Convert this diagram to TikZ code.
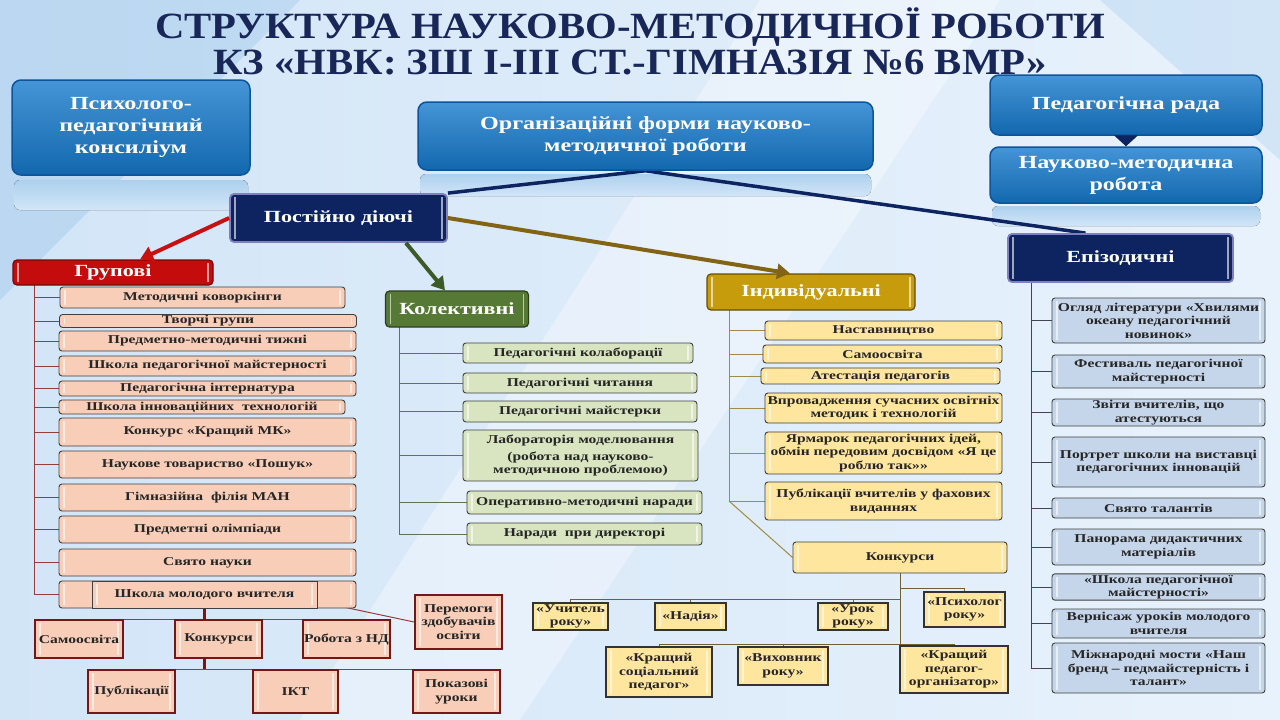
\documentclass[tikz,border=0pt]{standalone}
\usepackage{fontspec}
\setmainfont{Liberation Serif}
\newfontfamily\widefont{Liberation Serif}[FakeStretch=1.3,Ligatures=TeX]
\usepackage{tikz}
\usetikzlibrary{arrows.meta,shapes,positioning,backgrounds}

\definecolor{bgblue}{RGB}{210,229,247}
\definecolor{bgblue2}{RGB}{232,242,252}
\definecolor{topblue}{RGB}{22,122,204}
\definecolor{topblued}{RGB}{12,84,156}
\definecolor{navy}{RGB}{14,36,96}
\definecolor{titlenavy}{RGB}{24,38,88}
\definecolor{grpred}{RGB}{196,12,12}
\definecolor{kolgreen}{RGB}{86,122,54}
\definecolor{indgold}{RGB}{198,156,12}
\definecolor{peach}{RGB}{248,206,184}
\definecolor{lgreen}{RGB}{216,229,192}
\definecolor{lyellow}{RGB}{254,230,158}
\definecolor{lblue}{RGB}{198,214,234}
\definecolor{busred}{RGB}{150,62,62}
\definecolor{busgreen}{RGB}{98,114,84}
\definecolor{busgold}{RGB}{160,138,72}
\definecolor{busgray}{RGB}{66,68,84}
\definecolor{subred}{RGB}{118,22,22}
\definecolor{arrred}{RGB}{200,16,16}
\definecolor{arrgreen}{RGB}{60,90,40}
\definecolor{arrgold}{RGB}{130,100,20}

\newcommand{\ttlfont}{\bfseries\fontsize{37}{37}\selectfont}
\newcommand{\topfont}{\widefont\bfseries\fontsize{18.5}{22}\selectfont}
\newcommand{\catfont}{\widefont\bfseries\fontsize{17}{19}\selectfont}
\newcommand{\itemfont}{\widefont\bfseries\fontsize{12}{13.5}\selectfont}

\begin{document}
\begin{tikzpicture}[
    x=1pt, y=-1pt,
    bevel/.style={path picture={
        \draw[white, opacity=0.6, line width=1.4pt]
          ([xshift=5pt,yshift=3pt]path picture bounding box.south west) -- ([xshift=5pt,yshift=-3pt]path picture bounding box.north west)
          ([xshift=-5pt,yshift=3pt]path picture bounding box.south east) -- ([xshift=-5pt,yshift=-3pt]path picture bounding box.north east);}},
    ttl/.style={font=\ttlfont, text=titlenavy, xscale=1.1, inner sep=0pt, anchor=base},
    topbox/.style={rectangle, rounded corners=9pt, draw=topblued, line width=1.5pt,
                   top color=topblue!80!white, bottom color=topblue!85!black,
                   text=white, align=center, font=\topfont, inner sep=2pt},
    navybox/.style={rectangle, rounded corners=4pt, draw=black!50!blue!50, line width=1.8pt,
                    fill=navy, text=white, font=\catfont, bevel},
    catbox/.style={rectangle, rounded corners=4pt, line width=1.2pt, text=white, font=\catfont, bevel},
    item/.style={rectangle, draw=black!75, line width=0.9pt, rounded corners=3pt, text=black!85,
                 align=center, inner sep=1pt, font=\itemfont, bevel},
    gitem/.style={item, fill=peach, minimum width=297pt},
    kitem/.style={item, fill=lgreen, minimum width=234pt},
    iitem/.style={item, fill=lyellow, minimum width=237pt},
    eitem/.style={item, fill=lblue, minimum width=213pt},
    sbox/.style={rectangle, draw=subred, line width=1.8pt, fill=peach, text=black!85,
                 align=center, inner sep=1pt, font=\itemfont, minimum width=87pt, bevel},
    cbox/.style={rectangle, draw=black!80, line width=1.6pt, fill=lyellow, text=black!85,
                 align=center, inner sep=1pt, font=\itemfont, bevel},
    navyline/.style={draw=navy, line width=3.5pt},
    redarrow/.style={draw=arrred, line width=4pt, -{Triangle[length=13pt,width=15pt]}},
    greenarrow/.style={draw=arrgreen, line width=4pt, -{Triangle[length=13pt,width=15pt]}},
    goldarrow/.style={draw=arrgold, line width=4pt, -{Triangle[length=13pt,width=15pt]}},
    gline/.style={draw=busred, line width=1pt},
    kline/.style={draw=busgreen, line width=1pt},
    iline/.style={draw=busgold, line width=1pt},
    eline/.style={draw=busgray, line width=1pt},
    thinred/.style={draw=busred, line width=1pt},
    thickred/.style={draw=subred, line width=2.5pt},
    cline/.style={draw=busgold!70!black, line width=0.9pt}
]
\useasboundingbox (0,0) rectangle (1280,720);

% Background
\begin{scope}[on background layer]
\shade [left color=bgblue, right color=bgblue2] (0,0) rectangle (1280,720);
\fill [white, opacity=0.35] (760,0) -- (1000,0) -- (520,720) -- (300,720) -- cycle;
\fill [topblue, opacity=0.12] (0,0) -- (300,0) -- (0,300) -- cycle;
\fill [topblue, opacity=0.10] (1280,0) -- (1100,0) -- (1280,160) -- cycle;
% reflections
\fill [top color=topblue!35, bottom color=bgblue, rounded corners=6pt] (14,180) rectangle (248,210);
\fill [top color=topblue!35, bottom color=bgblue, rounded corners=6pt] (420,174) rectangle (871,196);
\fill [top color=topblue!35, bottom color=bgblue, rounded corners=6pt] (992,206) rectangle (1260,226);
\end{scope}

% Title
\node [ttl] (title1) at (630,38) {СТРУКТУРА НАУКОВО-МЕТОДИЧНОЇ РОБОТИ};
\node [ttl] (title2) at (630,74) {КЗ «НВК: ЗШ І-ІІІ СТ.-ГІМНАЗІЯ №6 ВМР»};

% Top blocks
\node [topbox, minimum width=238pt, minimum height=95pt] (psy) at (131,127.5) {Психолого-\\педагогічний\\консиліум};
\node [topbox, minimum width=455pt, minimum height=68pt] (org) at (645.5,136) {Організаційні форми науково-\\методичної роботи};
\node [topbox, minimum width=272pt, minimum height=60pt] (rada) at (1126,105) {Педагогічна рада};
\node [topbox, minimum width=272pt, minimum height=56pt] (nmr) at (1126,175) {Науково-методична\\робота};

% Second level
\node [navybox, minimum width=217pt, minimum height=48pt] (pd) at (338.5,218) {Постійно діючі};
\node [navybox, minimum width=225pt, minimum height=48pt] (epi) at (1120.5,258) {Епізодичні};

\node [catbox, fill=grpred, draw=grpred!60!black, minimum width=200pt, minimum height=25pt] (grp) at (113,272.5) {Групові};
\node [catbox, fill=kolgreen, draw=kolgreen!50!black, minimum width=143pt, minimum height=36pt] (kol) at (457,309) {Колективні};
\node [catbox, fill=indgold, draw=indgold!50!black, minimum width=208pt, minimum height=36pt] (ind) at (811,292) {Індивідуальні};

% Group forms
\node [gitem, minimum width=285pt, minimum height=21pt] (g1) at (202.5,297.5) {Методичні коворкінги};
\node [gitem, minimum height=12pt] (g2) at (208,321) {Творчі групи};
\node [gitem, minimum height=20pt] (g3) at (207.5,341) {Предметно-методичні тижні};
\node [gitem, minimum height=20pt] (g4) at (207.5,366) {Школа педагогічної майстерності};
\node [gitem, minimum height=15pt] (g5) at (207.5,388.5) {Педагогічна інтернатура};
\node [gitem, minimum width=286pt, minimum height=14pt] (g6) at (202,407) {Школа інноваційних \ технологій};
\node [gitem, minimum height=28pt] (g7) at (207.5,432) {Конкурс «Кращий МК»};
\node [gitem, minimum height=27pt] (g8) at (207.5,464.5) {Наукове товариство «Пошук»};
\node [gitem, minimum height=27pt] (g9) at (207.5,497.5) {Гімназійна \ філія МАН};
\node [gitem, minimum height=27pt] (g10) at (207.5,529.5) {Предметні олімпіади};
\node [gitem, minimum height=27pt] (g11) at (207.5,562.5) {Свято науки};
\node [gitem, minimum height=27pt] (g12) at (207.5,594.5) {};
\node [gitem, minimum width=225pt, minimum height=27pt, rounded corners=0pt] (smv) at (204.5,594.5) {Школа молодого вчителя};

% Young teacher school
\node [sbox, minimum width=88pt, minimum height=38pt] (s1) at (79,639) {Самоосвіта};
\node [sbox, minimum height=38pt] (s2) at (218.5,639) {Конкурси};
\node [sbox, minimum height=38pt] (s3) at (346.5,639) {Робота з НД};
\node [sbox, minimum height=54pt] (s4) at (458.5,622) {Перемоги\\здобувачів\\освіти};
\node [sbox, minimum height=43pt] (s5) at (131.5,691.5) {Публікації};
\node [sbox, minimum width=85pt, minimum height=43pt] (s6) at (295.5,691.5) {ІКТ};
\node [sbox, minimum height=43pt] (s7) at (456.5,691.5) {Показові\\уроки};

% Collective forms
\node [kitem, minimum width=230pt, minimum height=20pt] (k1) at (578,353) {Педагогічні колаборації};
\node [kitem, minimum height=20pt] (k2) at (580,383) {Педагогічні читання};
\node [kitem, minimum height=21pt] (k3) at (580,411.5) {Педагогічні майстерки};
\node [kitem, minimum width=235pt, minimum height=51pt] (k4) at (580.5,455.5) {Лабораторія моделювання\\[3pt](робота над науково-\\методичною проблемою)};
\node [kitem, minimum width=235pt, minimum height=23pt] (k5) at (584.5,502.5) {Оперативно-методичні наради};
\node [kitem, minimum width=235pt, minimum height=22pt] (k6) at (584.5,534) {Наради \ при директорі};

% Individual forms
\node [iitem, minimum height=19pt] (i1) at (883.5,330.5) {Наставництво};
\node [iitem, minimum width=239pt, minimum height=18pt] (i2) at (882.5,354) {Самоосвіта};
\node [iitem, minimum width=239pt, minimum height=16pt] (i3) at (880.5,376) {Атестація педагогів};
\node [iitem, minimum height=30pt] (i4) at (883.5,408) {Впровадження сучасних освітніх\\методик і технологій};
\node [iitem, minimum height=42pt] (i5) at (883.5,453) {Ярмарок педагогічних ідей,\\обмін передовим досвідом «Я це\\роблю так»»};
\node [iitem, minimum height=38pt] (i6) at (883.5,501) {Публікації вчителів у фахових\\виданнях};

% Contests
\node [iitem, minimum width=214pt, minimum height=31pt] (konk) at (900,557.5) {Конкурси};
\node [cbox, minimum width=75pt, minimum height=27pt] (c1) at (570.5,616.5) {«Учитель\\року»};
\node [cbox, minimum width=71pt, minimum height=27pt] (c2) at (690.5,616.5) {«Надія»};
\node [cbox, minimum width=70pt, minimum height=27pt] (c3) at (853,616.5) {«Урок\\року»};
\node [cbox, minimum width=81pt, minimum height=35pt] (c4) at (964.5,609.5) {«Психолог\\року»};
\node [cbox, minimum width=106pt, minimum height=50pt] (c5) at (659,672) {«Кращий\\соціальний\\педагог»};
\node [cbox, minimum width=90pt, minimum height=38pt] (c6) at (783,666) {«Виховник\\року»};
\node [cbox, minimum width=108pt, minimum height=47pt] (c7) at (954,669.5) {«Кращий\\педагог-\\організатор»};

% Episodic forms
\node [eitem, minimum height=45pt] (e1) at (1158.5,320.5) {Огляд літератури «Хвилями\\океану педагогічний\\новинок»};
\node [eitem, minimum height=33pt] (e2) at (1158.5,371.5) {Фестиваль педагогічної\\майстерності};
\node [eitem, minimum height=27pt] (e3) at (1158.5,412.5) {Звіти вчителів, що\\атестуються};
\node [eitem, minimum height=50pt] (e4) at (1158.5,462) {Портрет школи на виставці\\педагогічних інновацій};
\node [eitem, minimum height=20pt] (e5) at (1158.5,508) {Свято талантів};
\node [eitem, minimum height=36pt] (e6) at (1158.5,547) {Панорама дидактичних\\матеріалів};
\node [eitem, minimum height=26pt] (e7) at (1158.5,587) {«Школа педагогічної\\майстерності»};
\node [eitem, minimum height=29pt] (e8) at (1158.5,623.5) {Вернісаж уроків молодого\\вчителя};
\node [eitem, minimum height=50pt] (e9) at (1158.5,668) {Міжнародні мости «Наш\\бренд – педмайстерність і\\талант»};

% Bus points
\coordinate (gtop) at (34,285);
\coordinate (ktop) at (399,327);
\coordinate (itop) at (729,310);
\coordinate (iend) at (729,501);
\coordinate (etop) at (1031,282);
\coordinate (kb0) at (900,588);
\coordinate (kb1) at (900,599);
\coordinate (kb2) at (900,644);

% Connectors
\begin{scope}[on background layer]
\draw [navyline] (org.south) -- (pd.north east);
\draw [navyline] (org.south) -- ([xshift=-35pt]epi.north);

\draw [gline] (gtop) |- (g1);
\draw [gline] (gtop) |- (g2);
\draw [gline] (gtop) |- (g3);
\draw [gline] (gtop) |- (g4);
\draw [gline] (gtop) |- (g5);
\draw [gline] (gtop) |- (g6);
\draw [gline] (gtop) |- (g7);
\draw [gline] (gtop) |- (g8);
\draw [gline] (gtop) |- (g9);
\draw [gline] (gtop) |- (g10);
\draw [gline] (gtop) |- (g11);
\draw [gline] (gtop) |- (g12);

\draw [thickred] (smv.south) -- (smv.south |- s5.north);
\draw [thinred] (s1.north) -- (s3.north);
\draw [thinred] (s5.north) -- (s7.north);
\draw [thinred] ([yshift=-7pt]smv.east) -- (s4.west);

\draw [kline] (ktop) |- (k1);
\draw [kline] (ktop) |- (k2);
\draw [kline] (ktop) |- (k3);
\draw [kline] (ktop) |- (k4);
\draw [kline] (ktop) |- (k5);
\draw [kline] (ktop) |- (k6);

\draw [iline] (itop) |- (i1);
\draw [iline] (itop) |- (i2);
\draw [iline] (itop) |- (i3);
\draw [iline] (itop) |- (i4);
\draw [iline] (itop) |- (i5);
\draw [iline] (itop) |- (i6);
\draw [iline] (iend) -- (konk.west);

\draw [cline] (konk.south) -- (kb2);
\draw [cline] (kb0) -| (c4.north);
\draw [cline] (kb1) -| (c1.north);
\draw [cline] (kb1) -| (c2.north);
\draw [cline] (kb1) -| (c3.north);
\draw [cline] (kb2) -| (c5.north);
\draw [cline] (kb2) -| (c6.north);
\draw [cline] (kb2) -| (c7.north);

\draw [eline] (etop) |- (e1);
\draw [eline] (etop) |- (e2);
\draw [eline] (etop) |- (e3);
\draw [eline] (etop) |- (e4);
\draw [eline] (etop) |- (e5);
\draw [eline] (etop) |- (e6);
\draw [eline] (etop) |- (e7);
\draw [eline] (etop) |- (e8);
\draw [eline] (etop) |- (e9);
\end{scope}

% Arrows from the permanent forms
\draw [redarrow] (pd.west) -- ([xshift=27pt]grp.north);
\draw [greenarrow] ([xshift=-42pt]pd.south east) -- ([xshift=-12pt]kol.north);
\draw [goldarrow] (pd.east) -- ([xshift=-21pt]ind.north);
\draw [navy, line width=1pt, -{Triangle[length=11pt,width=24pt]}] (rada.south) -- (nmr.north);

\end{tikzpicture}
\end{document}
